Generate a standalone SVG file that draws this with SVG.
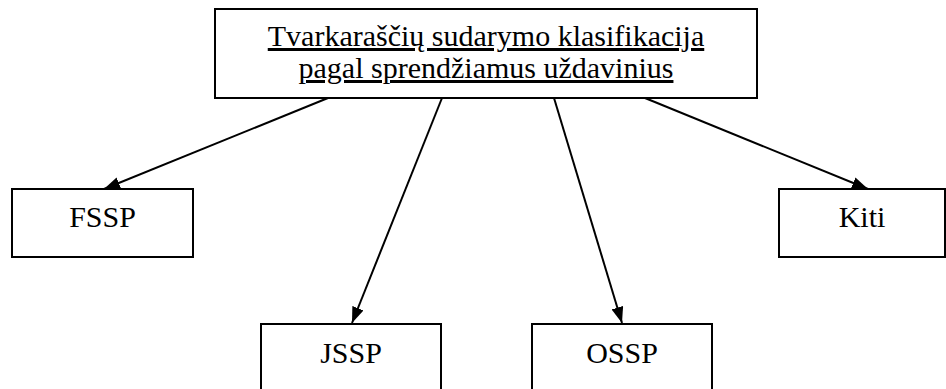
<svg xmlns="http://www.w3.org/2000/svg" width="946" height="389" viewBox="0 0 946 389">
<style>
.box{fill:#fff;stroke:#000;stroke-width:2}
.t{font-family:'Liberation Serif','Times New Roman',Times,serif;font-size:30px;fill:#000;text-anchor:middle}
.u{text-decoration:underline}
.c{stroke:#000;stroke-width:2;fill:none;marker-end:url(#ah)}
</style>
<defs>
<marker id="ah" viewBox="0 0 16 12" refX="16" refY="6" markerWidth="16" markerHeight="12" markerUnits="userSpaceOnUse" orient="auto">
<path d="M0,0 L16,6 L0,12 z" fill="#000"/>
</marker>
</defs>
<rect width="946" height="389" fill="#fff"/>
<g id="root">
<rect class="box" x="215" y="9" width="542" height="89"/>
<text class="t u" x="486" y="46">Tvarkaraščių sudarymo klasifikacija</text>
<text class="t u" x="486" y="78">pagal sprendžiamus uždavinius</text>
</g>
<g id="fssp">
<rect class="box" x="12" y="189" width="181" height="68"/>
<text class="t" x="102.5" y="227">FSSP</text>
</g>
<g id="kiti">
<rect class="box" x="779" y="189" width="166" height="68"/>
<text class="t" x="862" y="227">Kiti</text>
</g>
<g id="jssp">
<rect class="box" x="261" y="324" width="180" height="80"/>
<text class="t" x="351" y="363">JSSP</text>
</g>
<g id="ossp">
<rect class="box" x="532" y="324" width="180" height="80"/>
<text class="t" x="622" y="363">OSSP</text>
</g>
<g id="connectors">
<line class="c" x1="328" y1="98" x2="104" y2="189"/>
<line class="c" x1="442" y1="98" x2="352" y2="323"/>
<line class="c" x1="554" y1="98" x2="622" y2="323"/>
<line class="c" x1="645" y1="98" x2="868" y2="189"/>
</g>
</svg>
